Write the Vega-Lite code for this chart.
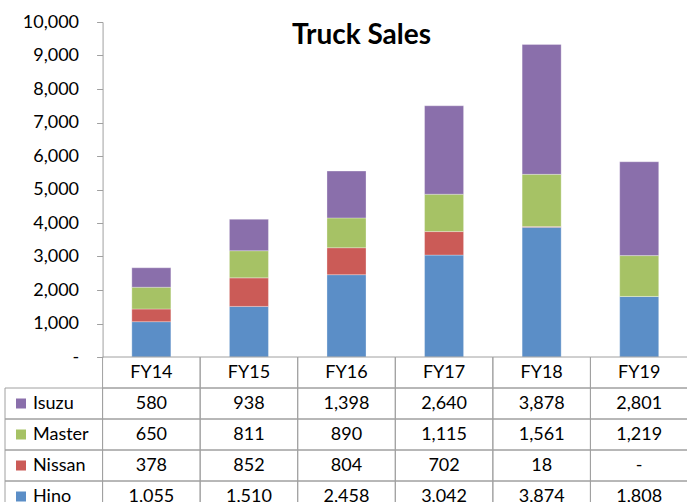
{
  "$schema": "https://vega.github.io/schema/vega-lite/v6.json",
  "padding": {"left": 4, "top": 13, "right": 0, "bottom": 0},
  "config": {"view": {"stroke": null}, "font": "Lato"},
  "datasets": {
    "sales": [
      {"year": "FY14", "maker": "Hino", "value": 1055},
      {"year": "FY14", "maker": "Nissan", "value": 378},
      {"year": "FY14", "maker": "Master", "value": 650},
      {"year": "FY14", "maker": "Isuzu", "value": 580},
      {"year": "FY15", "maker": "Hino", "value": 1510},
      {"year": "FY15", "maker": "Nissan", "value": 852},
      {"year": "FY15", "maker": "Master", "value": 811},
      {"year": "FY15", "maker": "Isuzu", "value": 938},
      {"year": "FY16", "maker": "Hino", "value": 2458},
      {"year": "FY16", "maker": "Nissan", "value": 804},
      {"year": "FY16", "maker": "Master", "value": 890},
      {"year": "FY16", "maker": "Isuzu", "value": 1398},
      {"year": "FY17", "maker": "Hino", "value": 3042},
      {"year": "FY17", "maker": "Nissan", "value": 702},
      {"year": "FY17", "maker": "Master", "value": 1115},
      {"year": "FY17", "maker": "Isuzu", "value": 2640},
      {"year": "FY18", "maker": "Hino", "value": 3874},
      {"year": "FY18", "maker": "Nissan", "value": 18},
      {"year": "FY18", "maker": "Master", "value": 1561},
      {"year": "FY18", "maker": "Isuzu", "value": 3878},
      {"year": "FY19", "maker": "Hino", "value": 1808},
      {"year": "FY19", "maker": "Nissan", "value": 0},
      {"year": "FY19", "maker": "Master", "value": 1219},
      {"year": "FY19", "maker": "Isuzu", "value": 2801}
    ],
    "years": [
      {"year": "FY14"}, {"year": "FY15"}, {"year": "FY16"},
      {"year": "FY17"}, {"year": "FY18"}, {"year": "FY19"}
    ],
    "makers": [
      {"maker": "Isuzu"}, {"maker": "Master"}, {"maker": "Nissan"}, {"maker": "Hino"}
    ]
  },
  "vconcat": [
    {
      "width": 683,
      "height": 335,
      "title": {
        "text": "Truck Sales",
        "font": "Lato",
        "fontSize": 28,
        "fontWeight": "bold",
        "color": "black",
        "anchor": "middle",
        "offset": -37,
        "dx": 15
      },
      "data": {"name": "sales"},
      "transform": [
        {"calculate": "indexof(['Hino', 'Nissan', 'Master', 'Isuzu'], datum.maker)", "as": "stackRank"}
      ],
      "mark": {"type": "bar", "width": {"band": 0.4}, "stroke": "#ffffff", "strokeWidth": 0.6, "strokeOpacity": 0.5},
      "encoding": {
        "x": {
          "field": "year",
          "type": "nominal",
          "scale": {"domain": ["label", "FY14", "FY15", "FY16", "FY17", "FY18", "FY19"], "paddingInner": 0, "paddingOuter": 0},
          "axis": null
        },
        "y": {
          "field": "value",
          "type": "quantitative",
          "stack": "zero",
          "scale": {"domain": [0, 10000], "nice": false},
          "axis": {
            "title": null,
            "offset": -97.57,
            "values": [0, 1000, 2000, 3000, 4000, 5000, 6000, 7000, 8000, 9000, 10000],
            "labelExpr": "datum.value == 0 ? '-\u00a0\u00a0\u00a0' : format(datum.value, ',')",
            "labelFont": "Lato",
            "labelFontSize": 18,
            "labelColor": "black",
            "labelPadding": 18,
            "tickSize": 6,
            "tickColor": "#a0a0a0",
            "domainColor": "#a0a0a0",
            "grid": false
          }
        },
        "color": {
          "field": "maker",
          "type": "nominal",
          "scale": {"domain": ["Isuzu", "Master", "Nissan", "Hino"], "range": ["#8a6fab", "#a6c265", "#cb5b57", "#5b8ec7"]},
          "legend": null
        },
        "order": {"field": "stackRank", "type": "quantitative", "sort": "ascending"}
      }
    },
    {
      "width": 683,
      "height": 155,
      "encoding": {
        "y": {
          "field": "maker",
          "type": "nominal",
          "scale": {"domain": ["head", "Isuzu", "Master", "Nissan", "Hino"], "paddingInner": 0, "paddingOuter": 0},
          "axis": null
        }
      },
      "layer": [
        {
          "data": {"name": "sales"},
          "mark": {"type": "rect", "filled": false, "stroke": "#a0a0a0", "strokeWidth": 1},
          "encoding": {
            "x": {"field": "year", "type": "nominal", "scale": {"domain": ["label", "FY14", "FY15", "FY16", "FY17", "FY18", "FY19"], "paddingInner": 0, "paddingOuter": 0}, "axis": null}
          }
        },
        {
          "data": {"name": "years"},
          "mark": {"type": "rect", "filled": false, "stroke": "#a0a0a0", "strokeWidth": 1},
          "encoding": {
            "x": {"field": "year", "type": "nominal", "axis": null},
            "y": {"datum": "head", "type": "nominal"}
          }
        },
        {
          "data": {"name": "makers"},
          "mark": {"type": "rect", "filled": false, "stroke": "#a0a0a0", "strokeWidth": 1},
          "encoding": {
            "x": {"datum": "label", "type": "nominal"}
          }
        },
        {
          "data": {"name": "sales"},
          "mark": {"type": "text", "font": "Lato", "fontSize": 18, "color": "black", "baseline": "middle"},
          "encoding": {
            "x": {"field": "year", "type": "nominal"},
            "text": {"condition": {"test": "datum.value == 0", "value": "-"}, "field": "value", "type": "quantitative", "format": ","}
          }
        },
        {
          "data": {"name": "years"},
          "mark": {"type": "text", "font": "Lato", "fontSize": 18, "color": "black", "baseline": "middle"},
          "encoding": {
            "x": {"field": "year", "type": "nominal"},
            "y": {"datum": "head", "type": "nominal"},
            "text": {"field": "year"}
          }
        },
        {
          "data": {"name": "makers"},
          "mark": {"type": "square", "size": 100, "filled": true, "opacity": 1},
          "encoding": {
            "x": {"datum": "label", "type": "nominal", "bandPosition": 0.164},
            "color": {"field": "maker", "type": "nominal", "scale": {"domain": ["Isuzu", "Master", "Nissan", "Hino"], "range": ["#8a6fab", "#a6c265", "#cb5b57", "#5b8ec7"]}, "legend": null}
          }
        },
        {
          "data": {"name": "makers"},
          "mark": {"type": "text", "font": "Lato", "fontSize": 18, "color": "black", "baseline": "middle", "align": "left"},
          "encoding": {
            "x": {"datum": "label", "type": "nominal", "bandPosition": 0.287},
            "text": {"field": "maker"}
          }
        }
      ]
    }
  ],
  "spacing": 0,
  "bounds": "flush"
}
